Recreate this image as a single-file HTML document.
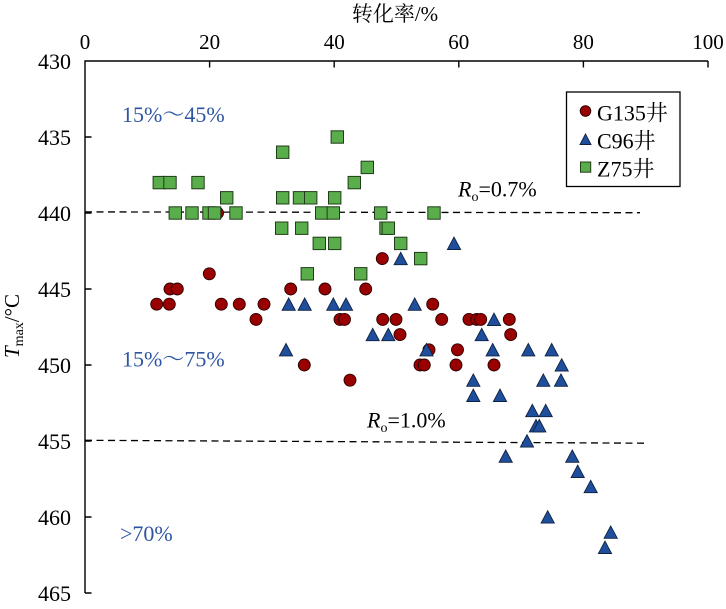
<!DOCTYPE html>
<html><head><meta charset="utf-8"><style>
html,body{margin:0;padding:0;background:#fff;}
svg{display:block;}
text{font-family:"Liberation Serif","Noto Serif CJK SC",serif;fill:#000;}
.b{fill:#2e55a3;}
</style></head><body>
<svg width="726" height="609" viewBox="0 0 726 609" xmlns="http://www.w3.org/2000/svg" xmlns:xlink="http://www.w3.org/1999/xlink">
<defs>
<circle id="c" cx="0" cy="0" r="6" fill="#990000" stroke="#2a0000" stroke-width="0.9"/>
<path id="t" d="M-6.6,6.1 L6.6,6.1 L0,-6.3 Z" fill="#1f4e9c" stroke="#0f2240" stroke-width="0.9"/>
<rect id="s" x="-6.2" y="-6.2" width="12.4" height="12.4" fill="#5aad4b" stroke="#203c18" stroke-width="1"/>
</defs>
<rect width="726" height="609" fill="#fff"/>
<!-- title -->
<text x="395" y="21" font-size="21" text-anchor="middle" font-family="Liberation Serif,Noto Sans CJK SC,sans-serif">转化率/%</text>
<!-- x tick labels -->
<g font-size="21" text-anchor="middle">
<text x="85" y="49">0</text>
<text x="209.6" y="49">20</text>
<text x="334.2" y="49">40</text>
<text x="458.8" y="49">60</text>
<text x="583.4" y="49">80</text>
<text x="708" y="49">100</text>
</g>
<!-- y tick labels -->
<g font-size="22" text-anchor="end">
<text x="71" y="69">430</text>
<text x="71" y="145">435</text>
<text x="71" y="221">440</text>
<text x="71" y="297">445</text>
<text x="71" y="373">450</text>
<text x="71" y="449">455</text>
<text x="71" y="525">460</text>
<text x="71" y="601">465</text>
</g>
<!-- y label -->
<text transform="translate(19,358) rotate(-90)" font-size="21"><tspan font-style="italic">T</tspan><tspan font-size="14" dy="4">max</tspan><tspan dy="-4">/°C</tspan></text>
<!-- axes -->
<g stroke="#000" stroke-width="1.4" fill="none">
<path d="M85,593 L85,61 L708,61"/>
<path d="M209.6,61 V67.5 M334.2,61 V67.5 M458.8,61 V67.5 M583.4,61 V67.5 M708,61 V67.5"/>
<path d="M85,137 H91.5 M85,213 H91.5 M85,289 H91.5 M85,365 H91.5 M85,441 H91.5 M85,517 H91.5 M85,593 H91.5"/>
</g>
<!-- dashed lines -->
<g stroke="#000" stroke-width="1.3" stroke-dasharray="7,4.5" fill="none">
<path d="M85,211.9 L640,212.7"/>
<path d="M85,440.3 L645,443.2"/>
</g>
<!-- annotations -->
<g font-size="22">
<text class="b" x="122" y="122">15%～45%</text>
<text class="b" x="122" y="366.5">15%～75%</text>
<text class="b" x="120" y="541">&gt;70%</text>
<text x="458" y="196.5"><tspan font-style="italic">R</tspan><tspan font-size="14" dy="4.5">o</tspan><tspan dy="-4.5">=0.7%</tspan></text>
<text x="367" y="427.5"><tspan font-style="italic">R</tspan><tspan font-size="14" dy="4.5">o</tspan><tspan dy="-4.5">=1.0%</tspan></text>
</g>
<!-- G135 circles -->
<g>
<use href="#c" x="217.5" y="213"/>
<use href="#c" x="209.3" y="273.8"/>
<use href="#c" x="382.3" y="258.6"/>
<use href="#c" x="170" y="289"/><use href="#c" x="177.3" y="289"/><use href="#c" x="290.7" y="289"/><use href="#c" x="325" y="289"/><use href="#c" x="365.7" y="289"/>
<use href="#c" x="156.7" y="304.2"/><use href="#c" x="169.3" y="304.2"/><use href="#c" x="221.3" y="304.2"/><use href="#c" x="239.3" y="304.2"/><use href="#c" x="264" y="304.2"/><use href="#c" x="432.7" y="304.2"/>
<use href="#c" x="256" y="319.4"/><use href="#c" x="340" y="319.4"/><use href="#c" x="344.5" y="319.4"/><use href="#c" x="382.7" y="319.4"/><use href="#c" x="396" y="319.4"/><use href="#c" x="441.7" y="319.4"/><use href="#c" x="469" y="319.4"/><use href="#c" x="476.7" y="319.4"/><use href="#c" x="480.7" y="319.4"/><use href="#c" x="509.3" y="319.4"/>
<use href="#c" x="400" y="334.6"/><use href="#c" x="510.7" y="334.6"/>
<use href="#c" x="429" y="349.8"/><use href="#c" x="457.5" y="349.8"/>
<use href="#c" x="304.3" y="365"/><use href="#c" x="420" y="365"/><use href="#c" x="424.3" y="365"/><use href="#c" x="456" y="365"/><use href="#c" x="494" y="365"/>
<use href="#c" x="350" y="380.2"/>
</g>
<!-- C96 triangles -->
<g>
<use href="#t" x="454" y="243.4"/>
<use href="#t" x="400.7" y="258.6"/>
<use href="#t" x="288.7" y="304.2"/><use href="#t" x="304.7" y="304.2"/><use href="#t" x="333.3" y="304.2"/><use href="#t" x="346" y="304.2"/><use href="#t" x="414.7" y="304.2"/>
<use href="#t" x="494" y="319.4"/>
<use href="#t" x="372.7" y="334.6"/><use href="#t" x="388.3" y="334.6"/><use href="#t" x="481.7" y="334.6"/>
<use href="#t" x="286" y="349.8"/><use href="#t" x="426.5" y="349.8"/><use href="#t" x="492.7" y="349.8"/><use href="#t" x="528.3" y="349.8"/><use href="#t" x="551.7" y="349.8"/>
<use href="#t" x="561.7" y="365"/>
<use href="#t" x="473.3" y="380.2"/><use href="#t" x="543.3" y="380.2"/><use href="#t" x="561" y="380.2"/>
<use href="#t" x="473.3" y="395.4"/><use href="#t" x="500" y="395.4"/>
<use href="#t" x="532.3" y="410.6"/><use href="#t" x="545.7" y="410.6"/>
<use href="#t" x="536" y="425.8"/><use href="#t" x="539.3" y="425.8"/>
<use href="#t" x="527" y="441"/>
<use href="#t" x="505.7" y="456.2"/><use href="#t" x="572.3" y="456.2"/>
<use href="#t" x="577.7" y="471.4"/>
<use href="#t" x="590.7" y="486.6"/>
<use href="#t" x="547.7" y="517"/>
<use href="#t" x="610.7" y="532.2"/>
<use href="#t" x="605" y="547.4"/>
</g>
<!-- Z75 squares -->
<g>
<use href="#s" x="337.3" y="137"/>
<use href="#s" x="282.7" y="152.2"/>
<use href="#s" x="367.3" y="167.4"/>
<use href="#s" x="159.3" y="182.6"/><use href="#s" x="170" y="182.6"/><use href="#s" x="198" y="182.6"/><use href="#s" x="354.3" y="182.6"/>
<use href="#s" x="226.7" y="197.8"/><use href="#s" x="282.7" y="197.8"/><use href="#s" x="299.5" y="197.8"/><use href="#s" x="310.7" y="197.8"/><use href="#s" x="334.7" y="197.8"/>
<use href="#s" x="175.3" y="213"/><use href="#s" x="192" y="213"/><use href="#s" x="209" y="213"/><use href="#s" x="214.5" y="213"/><use href="#s" x="236" y="213"/><use href="#s" x="321.7" y="213"/><use href="#s" x="333.3" y="213"/><use href="#s" x="380.7" y="213"/><use href="#s" x="434" y="213"/>
<use href="#s" x="281.7" y="228.2"/><use href="#s" x="301.7" y="228.2"/><use href="#s" x="386" y="228.2"/><use href="#s" x="388.3" y="228.2"/>
<use href="#s" x="319.3" y="243.4"/><use href="#s" x="334.7" y="243.4"/><use href="#s" x="400.7" y="243.4"/>
<use href="#s" x="420.7" y="258.6"/>
<use href="#s" x="307.3" y="273.8"/><use href="#s" x="360.7" y="273.8"/>
</g>
<!-- legend -->
<rect x="566.5" y="92" width="113.5" height="94.5" fill="#fff" stroke="#000" stroke-width="1.3"/>
<circle cx="585.5" cy="111" r="5.3" fill="#990000" stroke="#2a0000" stroke-width="0.9"/>
<path d="M580,144.5 L591,144.5 L585.5,134 Z" fill="#1f4e9c" stroke="#0f2240" stroke-width="0.9"/>
<rect x="580.5" y="162" width="10.2" height="10.2" fill="#5aad4b" stroke="#203c18" stroke-width="1"/>
<g font-size="22" font-family="Liberation Serif,Noto Serif CJK SC,serif">
<text x="597" y="120.5">G135井</text>
<text x="597" y="148.5">C96井</text>
<text x="597" y="176.5">Z75井</text>
</g>
</svg>
</body></html>
